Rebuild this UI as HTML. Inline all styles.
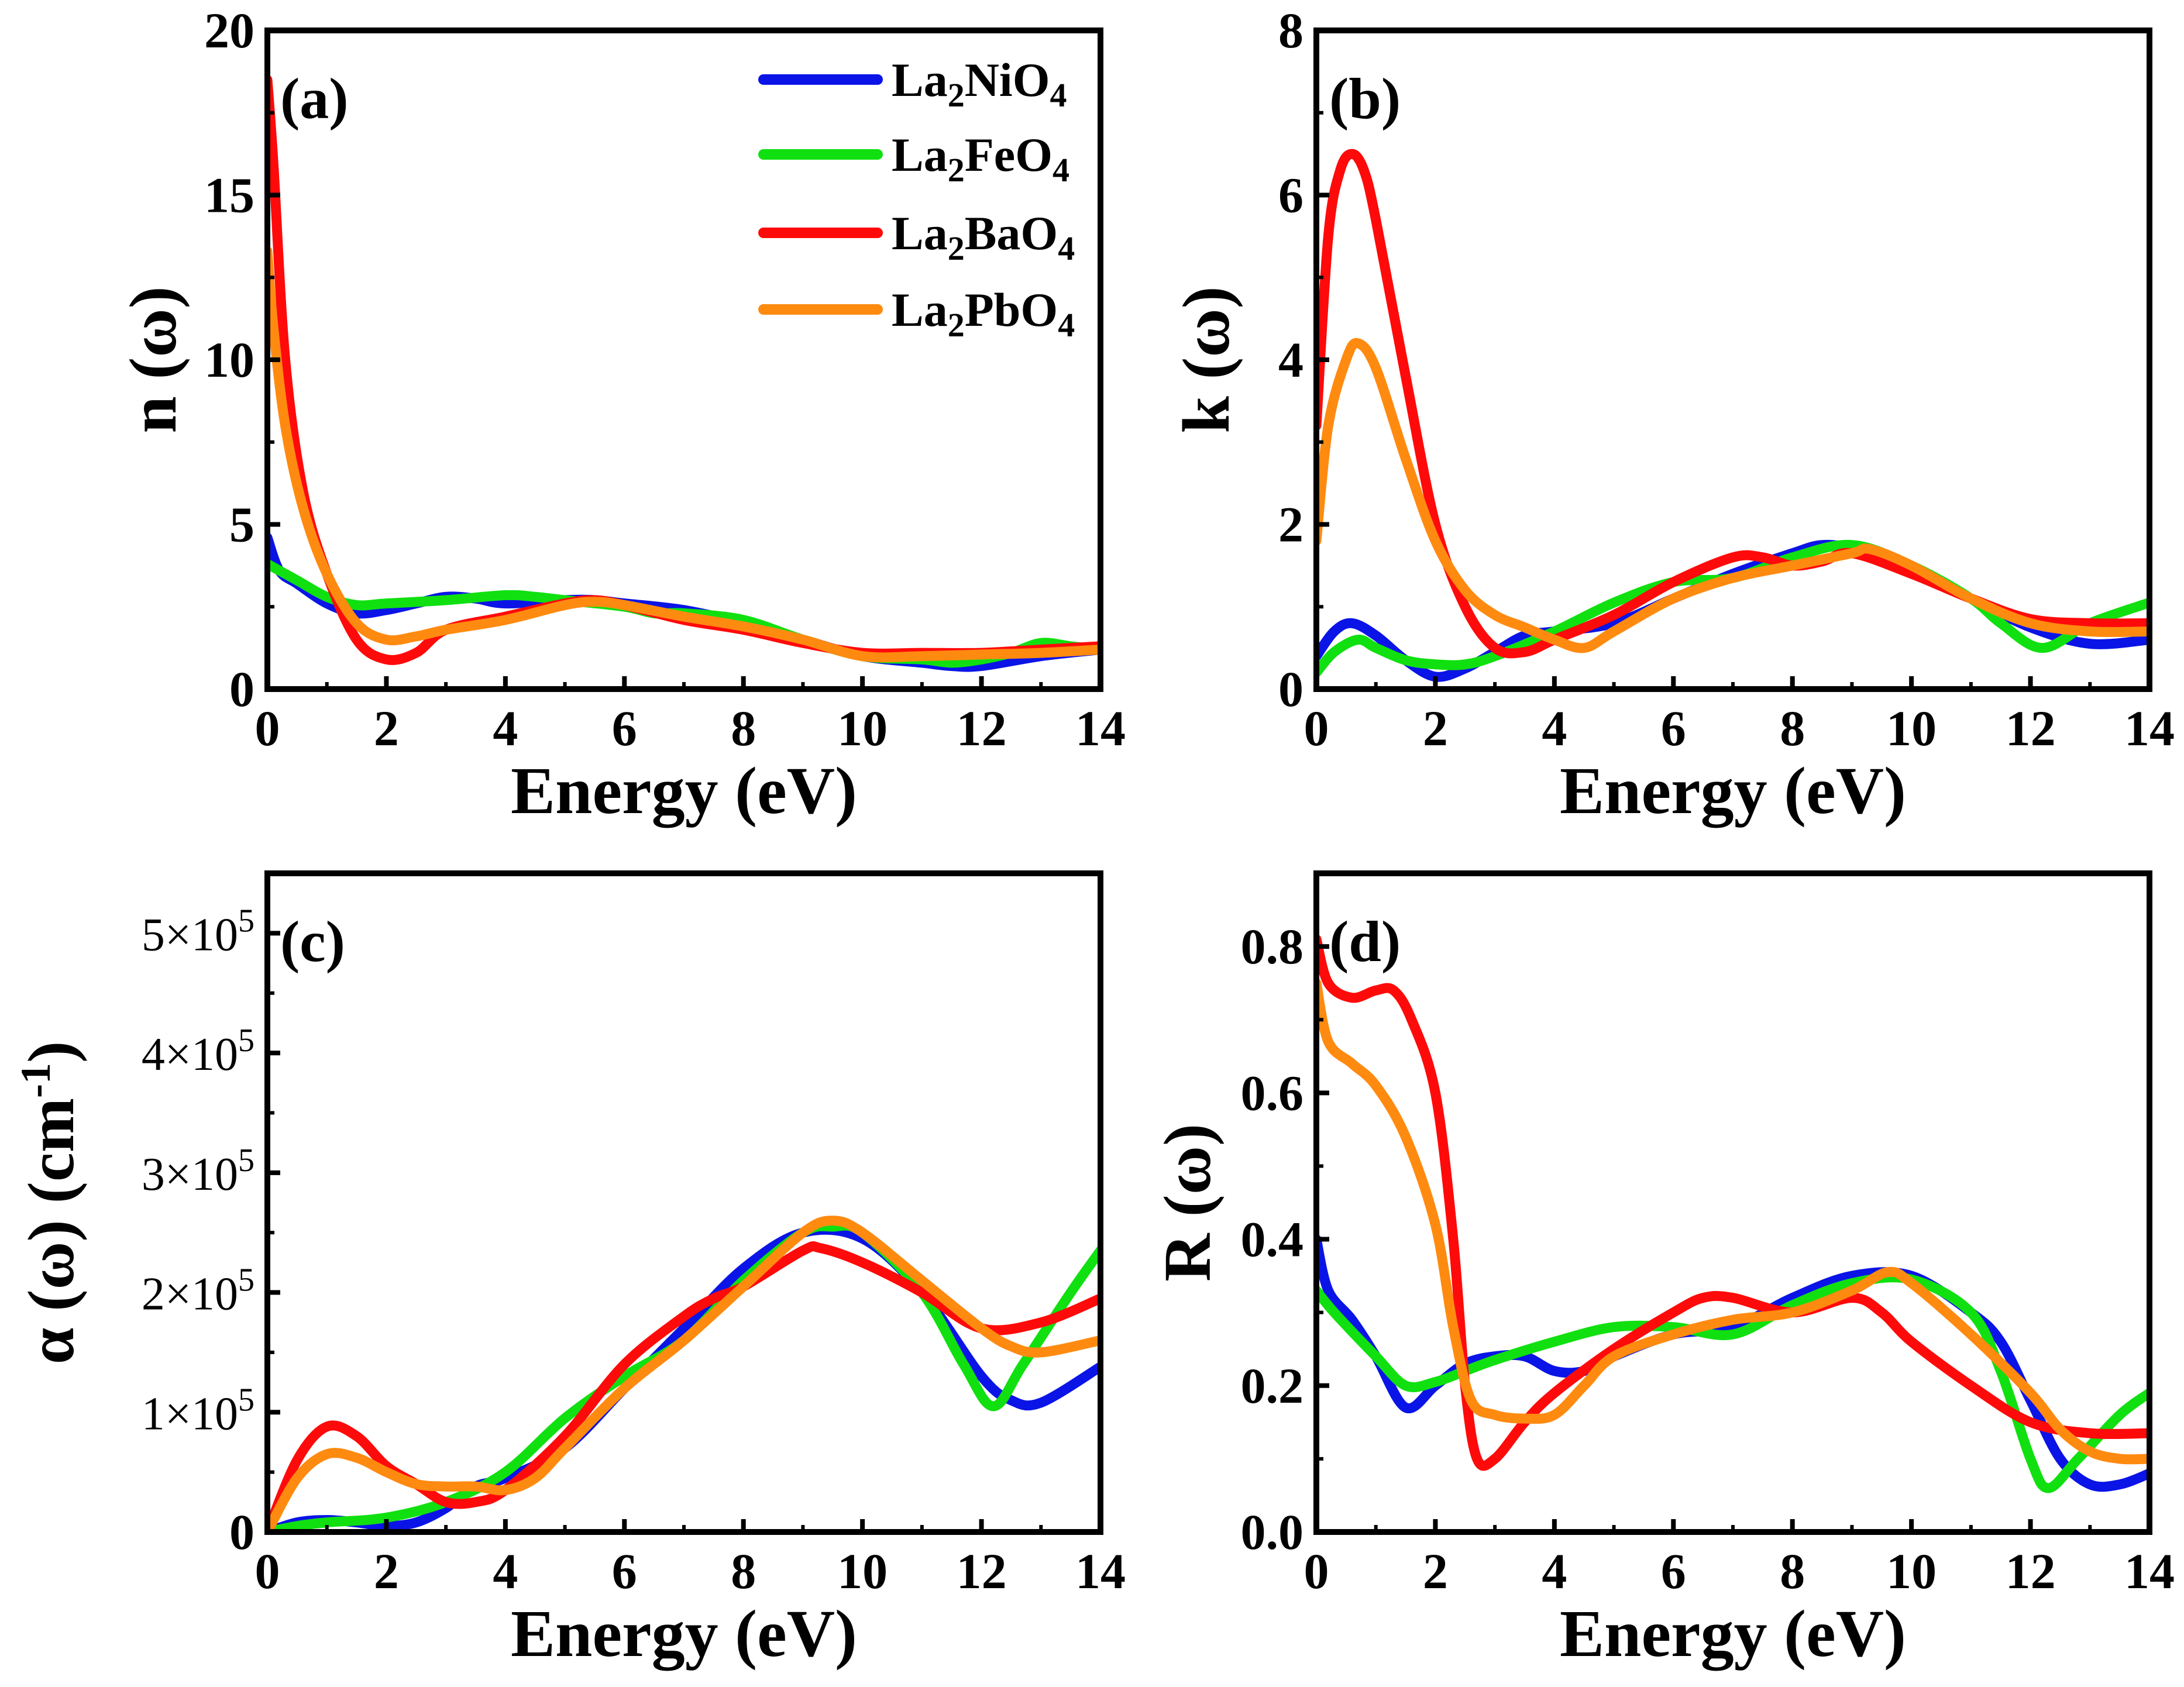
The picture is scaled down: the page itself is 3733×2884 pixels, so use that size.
<!DOCTYPE html>
<html><head><meta charset="utf-8">
<style>
html,body{margin:0;padding:0;background:#fff;}
svg{display:block;font-family:"Liberation Serif",serif;font-weight:bold;}
</style></head>
<body>
<svg id="fig" width="3733" height="2884" viewBox="0 0 3733 2884" xmlns="http://www.w3.org/2000/svg"></svg>
<script>
const seriesNames = ["La2NiO4","La2FeO4","La2BaO4","La2PbO4"];
const seriesColors = ["#0a14e6","#10e010","#ff0a0a","#ff8a10"];
const xTicks = [0,2,4,6,8,10,12,14];

// Panel (a) n(ω)
const nNi = [[0,4.6],[0.2,3.6],[0.5,3.2],[1,2.6],[1.5,2.3],[2,2.4],[2.5,2.6],[3,2.8],[3.5,2.75],[4,2.6],[5,2.7],[5.5,2.7],[6,2.6],[7,2.4],[8,2.0],[9,1.5],[10,1.0],[11,0.8],[11.5,0.7],[12,0.7],[13,1.0],[14,1.2]];
const nFe = [[0,3.8],[0.5,3.3],[1,2.8],[1.5,2.55],[2,2.6],[3,2.7],[4,2.85],[4.5,2.8],[5,2.7],[6,2.5],[6.5,2.3],[7,2.3],[8,2.1],[9,1.5],[10,1.0],[11,0.9],[11.5,0.8],[12,0.9],[12.5,1.1],[13,1.4],[13.5,1.3],[14,1.2]];
const nBa = [[0,18.5],[0.1,16],[0.3,10],[0.6,6],[1,3.5],[1.5,1.5],[2,0.9],[2.5,1.1],[3,1.8],[4,2.2],[5,2.6],[5.5,2.7],[6,2.55],[7,2.1],[8,1.8],[9,1.4],[10,1.1],[11,1.1],[12,1.1],[13,1.2],[14,1.3]];
const nPb = [[0,13.3],[0.1,11],[0.3,8],[0.6,5.5],[1,3.5],[1.5,2.0],[2,1.5],[2.5,1.6],[3,1.8],[4,2.1],[5,2.55],[5.5,2.65],[6,2.55],[7,2.2],[8,1.9],[9,1.5],[10,1.0],[11,1.0],[12,1.05],[13,1.1],[14,1.2]];
const nTicks = [0,5,10,15,20];

// Panel (b) k(ω)
const kNi = [[0,0.4],[0.3,0.7],[0.6,0.8],[1,0.65],[1.5,0.35],[2,0.15],[2.5,0.25],[3,0.45],[3.5,0.65],[4,0.7],[5,0.8],[6,1.1],[7,1.4],[8,1.65],[8.5,1.75],[9,1.7],[10,1.45],[11,1.1],[12,0.75],[13,0.55],[14,0.6]];
const kFe = [[0,0.2],[0.3,0.45],[0.7,0.6],[1,0.5],[1.5,0.35],[2,0.3],[2.5,0.3],[3,0.4],[4,0.7],[5,1.05],[6,1.3],[7,1.35],[8,1.6],[9,1.75],[10,1.5],[11,1.1],[11.5,0.8],[12.2,0.5],[13,0.8],[14,1.05]];
const kBa = [[0,3.2],[0.2,5.5],[0.4,6.3],[0.6,6.5],[0.8,6.3],[1,5.7],[1.5,3.8],[2,2.0],[2.5,1.0],[3,0.5],[3.5,0.45],[4,0.6],[5,0.9],[6,1.3],[7,1.6],[7.5,1.6],[8,1.5],[8.5,1.55],[9,1.65],[10,1.4],[11,1.1],[12,0.85],[13,0.8],[14,0.8]];
const kPb = [[0,1.8],[0.2,3.2],[0.5,4.0],[0.7,4.2],[1,3.9],[1.5,2.8],[2,1.8],[2.5,1.2],[3,0.9],[3.5,0.75],[4,0.6],[4.5,0.5],[5,0.7],[6,1.1],[7,1.35],[8,1.5],[9,1.65],[9.3,1.7],[10,1.5],[11,1.1],[12,0.8],[13,0.7],[14,0.7]];
const kTicks = [0,2,4,6,8];

// Panel (c) α(ω) in units of 1e5 cm^-1
const aNi = [[0,0],[0.5,0.08],[1,0.1],[1.5,0.08],[2,0.05],[2.5,0.08],[3,0.2],[3.5,0.38],[4,0.45],[5,0.7],[6,1.2],[7,1.7],[8,2.2],[9,2.5],[10,2.45],[11,2.0],[12,1.3],[12.5,1.1],[13,1.08],[14,1.38]];
const aFe = [[0,0],[0.5,0.05],[1,0.08],[2,0.12],[3,0.25],[4,0.5],[5,0.95],[6,1.3],[7,1.6],[8,2.1],[9,2.5],[9.5,2.55],[10,2.5],[11,2.0],[11.7,1.4],[12.2,1.05],[12.7,1.4],[13.5,2.0],[14,2.35]];
const aBa = [[0,0],[0.5,0.6],[1,0.88],[1.5,0.8],[2,0.55],[2.5,0.4],[3,0.25],[3.5,0.25],[4,0.35],[5,0.8],[6,1.4],[7,1.8],[7.5,1.95],[8,2.05],[9,2.35],[9.3,2.37],[10,2.25],[11,2.0],[12,1.7],[13,1.75],[14,1.95]];
const aPb = [[0,0],[0.5,0.45],[1,0.65],[1.5,0.62],[2,0.5],[2.5,0.4],[3,0.38],[3.5,0.38],[4,0.35],[4.5,0.45],[5,0.7],[6,1.2],[7,1.6],[8,2.05],[9,2.5],[9.5,2.6],[10,2.5],[11,2.1],[12,1.7],[12.5,1.55],[13,1.5],[14,1.6]];
const aTicks = [0,1,2,3,4,5];

// Panel (d) R(ω)
const rNi = [[0,0.4],[0.2,0.33],[0.6,0.29],[1,0.24],[1.5,0.17],[2,0.2],[2.5,0.23],[3,0.24],[3.5,0.24],[4,0.22],[4.5,0.22],[5,0.24],[6,0.27],[7,0.28],[8,0.32],[9,0.35],[10,0.35],[11,0.3],[11.5,0.26],[12,0.18],[12.5,0.1],[13,0.065],[13.5,0.065],[14,0.08]];
const rFe = [[0,0.33],[0.3,0.3],[1,0.24],[1.5,0.2],[2,0.205],[2.5,0.22],[3,0.235],[4,0.26],[5,0.28],[6,0.28],[7,0.27],[8,0.31],[9,0.34],[10,0.345],[11,0.3],[11.5,0.22],[12,0.1],[12.3,0.06],[12.8,0.1],[13.5,0.16],[14,0.19]];
const rBa = [[0,0.81],[0.2,0.75],[0.6,0.73],[1,0.74],[1.3,0.74],[1.6,0.7],[2,0.6],[2.3,0.4],[2.5,0.2],[2.7,0.1],[3,0.1],[3.5,0.15],[4,0.19],[5,0.25],[6,0.3],[6.5,0.32],[7,0.32],[8,0.3],[9,0.32],[9.5,0.3],[10,0.26],[11,0.2],[12,0.15],[13,0.135],[14,0.135]];
const rPb = [[0,0.75],[0.2,0.67],[0.6,0.64],[1,0.61],[1.5,0.54],[2,0.42],[2.3,0.28],[2.6,0.18],[3,0.16],[3.5,0.155],[4,0.16],[4.5,0.2],[5,0.24],[6,0.27],[7,0.29],[8,0.3],[9,0.33],[9.6,0.355],[10,0.34],[11,0.27],[12,0.19],[12.5,0.14],[13,0.11],[13.5,0.1],[14,0.1]];
const rTicks = [0.0,0.2,0.4,0.6,0.8];

const NS="http://www.w3.org/2000/svg";
const svg=document.getElementById('fig');
function mk(tag,attrs,parent){const e=document.createElementNS(NS,tag);for(const k in attrs)e.setAttribute(k,attrs[k]);(parent||svg).appendChild(e);return e;}

function smooth(pts){
  let d="M"+pts[0][0]+","+pts[0][1];
  for(let i=0;i<pts.length-1;i++){
    const p0=pts[Math.max(0,i-1)],p1=pts[i],p2=pts[i+1],p3=pts[Math.min(pts.length-1,i+2)];
    const c1x=p1[0]+(p2[0]-p0[0])/6,c1y=p1[1]+(p2[1]-p0[1])/6;
    const c2x=p2[0]-(p3[0]-p1[0])/6,c2y=p2[1]-(p3[1]-p1[1])/6;
    d+=" C"+c1x+","+c1y+" "+c2x+","+c2y+" "+p2[0]+","+p2[1];
  }
  return d;
}

function panel(cfg){
  const {id,x0,x1,y0,y1,ymax,yTicks,yMinorStep,series,label,ytitle,ytitleX,tickFmt,ytitleSize}=cfg;
  const g=mk('g',{});
  
  
  const X=v=>x0+(v/14)*(x1-x0);
  const Y=v=>y1-(v/ymax)*(y1-y0);
  const cp=mk('clipPath',{id:'clip-'+id},g);
  mk('rect',{x:x0,y:y0,width:x1-x0,height:y1-y0},cp);
  const lg=mk('g',{'clip-path':'url(#clip-'+id+')'},g);
  series.forEach((s,i)=>{
    const p=mk('path',{d:smooth(s.map(q=>[X(q[0]),Y(q[1])])),fill:'none',stroke:seriesColors[i],'stroke-width':17,'stroke-linejoin':'round','stroke-linecap':'round'},lg);
    
    
  });
  const fr=mk('rect',{x:x0,y:y0,width:x1-x0,height:y1-y0,fill:'none',stroke:'#000','stroke-width':10},g);
  
  
  for(let v=0;v<=14;v++){
    const major=v%2===0;
    mk('line',{x1:X(v),x2:X(v),y1:y1,y2:y1-(major?22:12),stroke:'#000','stroke-width':major?8:6},g);
  }
  xTicks.forEach(v=>{
    const t=mk('text',{x:X(v),y:y1+96,'font-size':86,'text-anchor':'middle'},g);
    t.textContent=v;
    
    
  });
  const xt=mk('text',{x:(x0+x1)/2,y:y1+212,'font-size':114,'text-anchor':'middle'},g);
  xt.textContent='Energy (eV)';
  
  
  for(let v=0;v<=ymax+1e-9;v+=yMinorStep){
    const isMajor=yTicks.some(t=>Math.abs(t-v)<1e-6);
    mk('line',{x1:x0,x2:x0+(isMajor?22:12),y1:Y(v),y2:Y(v),stroke:'#000','stroke-width':isMajor?8:6},g);
  }
  yTicks.forEach(v=>{
    const t=mk('text',{x:x0-22,y:Y(v)+29,'font-size':86,'text-anchor':'end'},g);
    
    
    tickFmt(t,v);
  });
  const pl=mk('text',{x:x0+22,y:y0+150,'font-size':100},g);
  pl.textContent=label;
  
  
  const yt=mk('text',{x:ytitleX,y:(y0+y1)/2,'font-size':ytitleSize||114,'text-anchor':'middle',transform:'rotate(-90 '+ytitleX+' '+((y0+y1)/2)+')'},g);
  
  
  ytitle(yt);
  return g;
}
const plain=(t,v)=>{t.textContent=v;};
panel({id:'a',x0:457,x1:1881,y0:52,y1:1178,ymax:20,yTicks:nTicks,yMinorStep:2.5,series:[nNi,nFe,nBa,nPb],label:'(a)',ytitleX:300,tickFmt:plain,ytitle:t=>{t.textContent='n (ω)';}});
panel({id:'b',x0:2250,x1:3674,y0:52,y1:1178,ymax:8,yTicks:kTicks,yMinorStep:1,series:[kNi,kFe,kBa,kPb],label:'(b)',ytitleX:2100,tickFmt:plain,ytitle:t=>{t.textContent='k (ω)';}});
panel({id:'c',x0:457,x1:1881,y0:1493,y1:2619,ymax:5.5,yTicks:aTicks,yMinorStep:0.5,series:[aNi,aFe,aBa,aPb],label:'(c)',ytitleX:125,ytitleSize:112,
  tickFmt:(t,v)=>{ if(v===0){t.textContent='0';return;}
    t.setAttribute('font-weight','normal');
    t.setAttribute('font-size','80');
    const a=mk('tspan',{},t);a.textContent=v+'×10';
    const b=mk('tspan',{dy:-32,'font-size':56},t);b.textContent='5';},
  ytitle:t=>{const a=mk('tspan',{},t);a.textContent='α (ω) (cm';const b=mk('tspan',{dy:-40,'font-size':72},t);b.textContent='-1';const c=mk('tspan',{dy:40},t);c.textContent=')';}});
panel({id:'d',x0:2250,x1:3674,y0:1493,y1:2619,ymax:0.9,yTicks:rTicks,yMinorStep:0.1,series:[rNi,rFe,rBa,rPb],label:'(d)',ytitleX:2068,tickFmt:(t,v)=>{t.textContent=v.toFixed(1);},ytitle:t=>{t.textContent='R (ω)';}});

const legY=[136,264,398,529];
const leg=mk('g',{});


seriesNames.forEach((n,i)=>{
  const e=mk('g',{},leg);
  
  
  mk('line',{x1:1305,x2:1500,y1:legY[i],y2:legY[i],stroke:seriesColors[i],'stroke-width':18,'stroke-linecap':'round'},e);
  const t=mk('text',{x:1524,y:legY[i]+28,'font-size':82},e);
  const m=n.match(/La2(\w+)O4/);
  const s1=mk('tspan',{},t);s1.textContent='La';
  const s2=mk('tspan',{dy:18,'font-size':58},t);s2.textContent='2';
  const s3=mk('tspan',{dy:-18},t);s3.textContent=m[1]+'O';
  const s4=mk('tspan',{dy:18,'font-size':58},t);s4.textContent='4';
});
</script>
</body></html>
